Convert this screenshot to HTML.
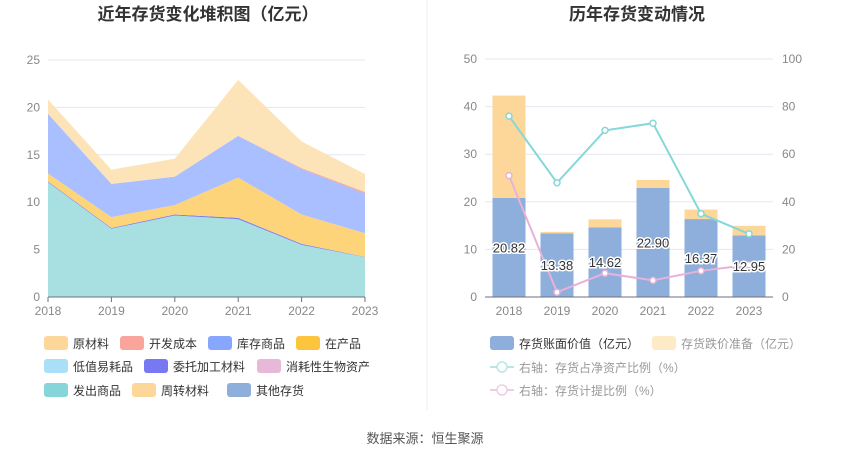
<!DOCTYPE html>
<html><head><meta charset="utf-8"><style>
body{margin:0;background:#fff;font-family:"Liberation Sans","Noto Sans CJK SC",sans-serif;}
svg text{font-family:"Liberation Sans","Noto Sans CJK SC",sans-serif;}
</style></head><body>
<svg id="s" width="850" height="459" viewBox="0 0 850 459" xmlns="http://www.w3.org/2000/svg">
<text x="208" y="20" font-size="17" font-weight="bold" fill="#333" text-anchor="middle">近年存货变化堆积图（亿元）</text>
<text x="637" y="20" font-size="17" font-weight="bold" fill="#333" text-anchor="middle">历年存货变动情况</text>
<line x1="427" y1="0" x2="427" y2="410" stroke="#eee"/>
<text x="425" y="443" font-size="13" fill="#555" text-anchor="middle">数据来源：恒生聚源</text>
<g id="L"></g><g id="R"></g><g id="LG"></g>
</svg>
<script>
const years=['2018','2019','2020','2021','2022','2023'];
const leftTicks=[0,5,10,15,20,25];
// stacked layers bottom->top
const s发出商品=[12.1,7.2,8.6,8.2,5.5,4.2];
const s委托加工=[0.08,0.08,0.1,0.15,0.1,0.03];
const s在产品=[0.85,1.15,1.0,4.25,3.1,2.5];
const s库存商品=[6.3,3.5,3.0,4.4,4.8,4.2];
const s开发成本=[0,0,0,0,0.1,0.15];
const s原材料=[1.5,1.5,1.9,5.9,2.8,1.9];
const bookValue=[20.82,13.38,14.62,22.90,16.37,12.95];
const reserve=[21.5,0.3,1.7,1.7,2.0,2.0];
const ratioNet=[76,48,70,73,35,26.5];
const ratioProv=[51,2,10,7,11,13.5];
const rightTicksL=[0,10,20,30,40,50];
const rightTicksR=[0,20,40,60,80,100];
const NS='http://www.w3.org/2000/svg';
function mk(p,t,a){const e=document.createElementNS(NS,t);for(const k in a)e.setAttribute(k,a[k]);p.appendChild(e);return e;}
const L=document.getElementById('L'),R=document.getElementById('R'),LG=document.getElementById('LG');
const lx=i=>48+i*(365-48)/5, ly=v=>297-v*(297-60)/25;
leftTicks.forEach(t=>{
 if(t>0){const g=mk(L,'line',{x1:48,x2:365,y1:ly(t),y2:ly(t),stroke:'#e3e7f0'});
 
 }
 const tx=mk(L,'text',{x:40,y:ly(t)+4,'font-size':12,fill:'#888','text-anchor':'end'});tx.textContent=t;
 
 
});
const layers=[[s发出商品,'#a8e0e2','fa-chu'],[s委托加工,'#7b7ef0','wei-tuo'],[s在产品,'#fdd47a','zai-chan'],[s库存商品,'#a9bfff','ku-cun'],[s开发成本,'#f9a59b','kai-fa'],[s原材料,'#fde4b8','yuan-cai']];
let base=years.map(()=>0);
layers.forEach(([arr,c,n])=>{
 const top=base.map((b,i)=>b+arr[i]);
 let d='M'+years.map((_,i)=>lx(i)+','+ly(top[i])).join('L');
 for(let i=5;i>=0;i--)d+='L'+lx(i)+','+ly(base[i]);
 const p=mk(L,'path',{d:d+'Z',fill:c});
 
 
 base=top;
});
mk(L,'line',{x1:48,x2:365,y1:297,y2:297,stroke:'#6e7079'});
years.forEach((y,i)=>{mk(L,'line',{x1:lx(i),x2:lx(i),y1:297,y2:302,stroke:'#6e7079'});
 const t=mk(L,'text',{x:lx(i),y:315,'font-size':12,fill:'#888','text-anchor':'middle'});t.textContent=y;
 
 });
const rx=i=>509+i*48, ry=v=>297-v*(297-59)/50, ry2=v=>297-v*(297-59)/100;
rightTicksL.forEach((t,k)=>{
 if(t>0){const g=mk(R,'line',{x1:485,x2:773,y1:ry(t),y2:ry(t),stroke:'#e3e7f0'});
 
 }
 const a=mk(R,'text',{x:477,y:ry(t)+4,'font-size':12,fill:'#888','text-anchor':'end'});a.textContent=t;
 
 
 const b=mk(R,'text',{x:782,y:ry(t)+4,'font-size':12,fill:'#888'});b.textContent=rightTicksR[k];
 
 
});
years.forEach((y,i)=>{
 const b1=mk(R,'rect',{x:rx(i)-16.5,y:ry(bookValue[i]),width:33,height:297-ry(bookValue[i]),fill:'#8eaedb'});
 
 
 const b2=mk(R,'rect',{x:rx(i)-16.5,y:ry(bookValue[i]+reserve[i]),width:33,height:ry(bookValue[i])-ry(bookValue[i]+reserve[i]),fill:'#fdd79a'});
 
 
});
mk(R,'line',{x1:485,x2:773,y1:297,y2:297,stroke:'#6e7079'});
years.forEach((y,i)=>{const t=mk(R,'text',{x:rx(i),y:315,'font-size':12,fill:'#888','text-anchor':'middle'});t.textContent=y;
 
 });
[[ratioNet,'#86d8d8','net-asset-ratio-line'],[ratioProv,'#e6b2d8','provision-ratio-line']].forEach(([arr,c,n])=>{
 const p=mk(R,'polyline',{points:arr.map((v,i)=>rx(i)+','+ry2(v)).join(' '),fill:'none',stroke:c,'stroke-width':2});
 
 
 arr.forEach((v,i)=>{const m=mk(R,'circle',{cx:rx(i),cy:ry2(v),r:3,fill:'#fff',stroke:c,'stroke-width':1.5});
 
 });
});
bookValue.forEach((v,i)=>{const t=mk(R,'text',{x:rx(i),y:ry(v/2)+5,'font-size':13,fill:'#333','text-anchor':'middle',stroke:'#fff','stroke-width':3,'paint-order':'stroke'});t.textContent=v.toFixed(2);
 
 });
const leftLeg=[['原材料','#fdd79a'],['开发成本','#f9a59b'],['库存商品','#87a7ff'],['在产品','#fcc53d'],['低值易耗品','#aadff8'],['委托加工材料','#7879f2'],['消耗性生物资产','#e8b8d9'],['发出商品','#86d5d8'],['周转材料','#fdd79a'],['其他存货','#8eaedb']];
const pos=[[44,343],[120,343],[208,343],[296,343],[44,366],[144,366],[257,366],[44,390],[132,390],[227,390]];
leftLeg.forEach(([n,c],k)=>{
 const [x,y]=pos[k];
 const g=mk(LG,'g',{});
 
 
 mk(g,'rect',{x:x,y:y-7,width:24,height:14,rx:3,fill:c});
 const t=mk(g,'text',{x:x+29,y:y+5,'font-size':12,fill:'#333'});t.textContent=n;
});
const rl=[[['存货账面价值（亿元）','#8eaedb','#333'],[490,343]],[['存货跌价准备（亿元）','#fdebc8','#999'],[652,343]]];
rl.forEach(([[n,c,tc],[x,y]])=>{const g=mk(LG,'g',{});
 
 
 mk(g,'rect',{x:x,y:y-7,width:24,height:14,rx:3,fill:c});
 const t=mk(g,'text',{x:x+29,y:y+5,'font-size':12,fill:tc});t.textContent=n;});
[['右轴：存货占净资产比例（%）','#b8e6e6',367],['右轴：存货计提比例（%）','#f0cde6',390]].forEach(([n,c,y])=>{
 const g=mk(LG,'g',{});
 
 
 mk(g,'line',{x1:490,x2:514,y1:y,y2:y,stroke:c,'stroke-width':2});
 mk(g,'circle',{cx:502,cy:y,r:5,fill:'#fff',stroke:c,'stroke-width':1.5});
 const t=mk(g,'text',{x:519,y:y+5,'font-size':12,fill:'#999'});t.textContent=n;});
</script>
</body></html>
